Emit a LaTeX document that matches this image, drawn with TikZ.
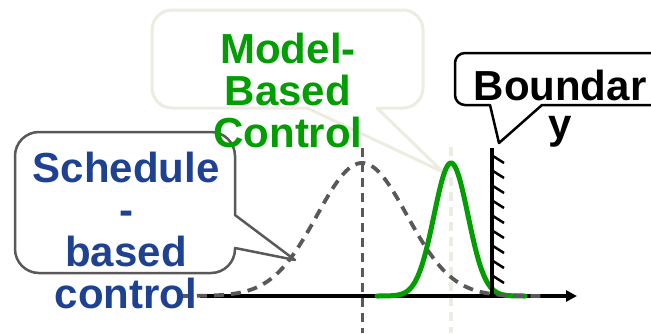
\documentclass[tikz,border=0pt]{standalone}
\usepackage{fontspec}
\setmainfont{Liberation Sans}
\usetikzlibrary{arrows.meta}
\definecolor{schedblue}{RGB}{31,65,145}
\definecolor{mbgreen}{RGB}{0,158,0}
\definecolor{calloutbeige}{RGB}{236,236,224}
\definecolor{curvegray}{RGB}{89,89,89}
\begin{document}
\begin{tikzpicture}[x=1pt,y=-1pt,
  lbl/.style={font=\fontsize{42}{42}\selectfont\bfseries, align=center, inner sep=0pt},
  callout/.style={line width=2.5pt, fill=white, line join=round},
  gauss/.style={line width=3.8pt, curvegray, dash pattern=on 10pt off 7pt},
  guide/.style={line width=3pt, dash pattern=on 9pt off 6pt}]
\useasboundingbox (0,0) rectangle (651,333);
% guide lines
\draw[guide, calloutbeige, line width=4.5pt] (451,147) -- (451,333);
\draw[guide, curvegray] (362,148) -- (362,333);
% callouts
\draw[callout, draw=calloutbeige, line width=3pt]
  (377,108) -- (443,172) -- (307,108)
  [rounded corners=20pt] -- (152,108) -- (152,10) -- (423,10) -- (423,108) [sharp corners] -- cycle;
\draw[callout, draw=curvegray]
  (235,215) -- (295,260) -- (235,248)
  [rounded corners=24pt] -- (235,273) -- (15,273) -- (15,132) -- (235,132) [sharp corners] -- cycle;
\draw[callout, draw=black]
  (542,105) -- (499,143) -- (490,105)
  [rounded corners=10pt] -- (455,105) -- (455,53) -- (680,53) -- (680,105) [sharp corners] -- cycle;
% axis
\coordinate (axs) at (200,296);
\coordinate (axe) at (577,296);
\draw[line width=3.5pt, -{Triangle[length=11pt,width=11pt]}] (axs) -- (axe);
% green curve
\draw[mbgreen, line width=5pt, line cap=round] plot[domain=377:525, samples=120] ({\x},{296-133*exp(-0.5*((\x-451)/17)^2)});
% gray dashed curve
\draw[gauss] plot[domain=180:547, samples=160] ({\x},{296-133*exp(-0.5*((\x-362)/45)^2)});
% wall
\coordinate (wt) at (492,148);
\coordinate (wb) at (492,296);
\draw[line width=3.5pt] (wt) -- (wb);
\foreach \k in {0,...,8} {
  \draw[line width=2.5pt] (493,156+15*\k) -- (504,163+15*\k);
}
% labels (anchor=base is the baseline of the last line)
\node[lbl, text=schedblue, anchor=base] (sched) at (126,308) {Schedule\\-\\based\\control};
\node[lbl, text=mbgreen, anchor=base] (mbc) at (288,147) {Model-\\Based\\Control};
\node[lbl, text=black, anchor=base, font=\fontsize{42}{38}\selectfont\bfseries] (bnd) at (560,138) {Boundar\\y};
\end{tikzpicture}
\end{document}
